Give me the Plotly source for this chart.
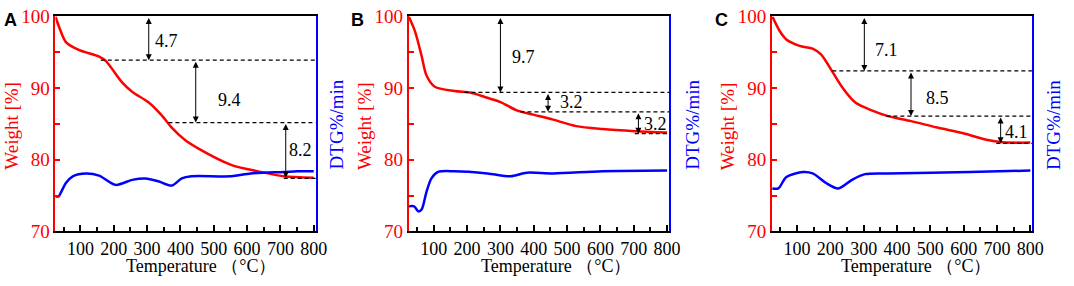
import plotly.graph_objects as go

# ---------------- data ----------------
# Panel A
temp_a_w = [25, 38, 57, 97, 156, 176, 225, 255, 305, 344, 374, 413, 453, 552, 631, 710, 800]
weight_a = [100, 98.3, 96.4, 95.3, 94.4, 93.8, 90.8, 89.5, 88.0, 86.2, 84.5, 82.8, 81.6, 79.3, 78.4, 77.7, 77.5]
temp_a_d = [25, 35, 41, 57, 77, 117, 156, 206, 255, 295, 334, 374, 404, 433, 552, 611, 710, 750, 800]
dtg_a = [74.9, 74.9, 75.4, 76.8, 77.7, 78.1, 77.8, 76.5, 77.2, 77.4, 77.0, 76.4, 77.4, 77.7, 77.7, 78.1, 78.3, 78.4, 78.4]

# Panel B
temp_b_w = [25, 44, 64, 78, 103, 162, 212, 251, 300, 349, 399, 458, 527, 606, 704, 800]
weight_b = [100, 97.9, 94.4, 91.8, 90.2, 89.6, 89.35, 88.8, 88.05, 86.9, 86.3, 85.6, 84.7, 84.3, 84.0, 83.8]
temp_b_d = [25, 41, 54, 64, 78, 93, 113, 162, 261, 330, 379, 458, 606, 800]
dtg_b = [73.5, 73.5, 72.8, 73.1, 75.5, 77.4, 78.3, 78.4, 78.1, 77.7, 78.2, 78.1, 78.4, 78.5]

# Panel C
temp_c_w = [26, 49, 68, 108, 147, 172, 206, 236, 275, 324, 373, 442, 521, 599, 668, 717, 800]
weight_c = [100, 97.9, 96.8, 95.9, 95.5, 94.7, 92.3, 90.1, 88.0, 86.9, 86.1, 85.4, 84.5, 83.7, 82.8, 82.45, 82.4]
temp_c_d = [26, 44, 68, 118, 147, 186, 224, 265, 304, 373, 619, 800]
dtg_c = [76.0, 76.0, 77.6, 78.3, 78.1, 76.8, 76.0, 77.2, 78.0, 78.1, 78.3, 78.5]

# step levels (dashed lines): start temperature and weight level
step_start_a = [161, 364, 710]
step_level_a = [93.9, 85.2, 77.4]
step_start_b = [192, 360, 703]
step_level_b = [89.4, 86.7, 83.65]
step_start_c = [206, 368, 698]
step_level_c = [92.4, 86.1, 82.3]

# arrows: x position, top, bottom ; labels: text, x, y
arrow_x_a = [305, 446, 716]
arrow_top_a = [100, 93.9, 85.2]
arrow_bot_a = [93.9, 85.2, 77.5]
label_a = ["4.7", "9.4", "8.2"]
label_x_a = [358, 547, 760]
label_y_a = [96.6, 88.4, 81.3]

arrow_x_b = [300, 443, 714]
arrow_top_b = [100, 89.4, 86.7]
arrow_bot_b = [89.4, 86.7, 83.65]
label_b = ["9.7", "3.2", "3.2"]
label_x_b = [369, 512, 764]
label_y_b = [94.4, 88.0, 85.0]

arrow_x_c = [302, 442, 711]
arrow_top_c = [100, 92.4, 86.1]
arrow_bot_c = [92.4, 86.1, 82.3]
label_c = ["7.1", "8.5", "4.1"]
label_x_c = [368, 521, 760]
label_y_c = [95.3, 88.6, 83.9]

panel_letters = ["A", "B", "C"]
x_ticks = [100, 200, 300, 400, 500, 600, 700, 800]
y_ticks = [70, 80, 90, 100]
x_title = "Temperature （°C）"
y_title = "Weight [%]"
y2_title = "DTG%/min"

# ---------------- layout geometry ----------------
W, H = 1074, 286
x_dom_px = [(56, 319), (413, 676), (780, 1043)]
y_dom = [1 - 239 / H, 1 - 7 / H]
SERIF = "Liberation Serif"
RED = "#ff0000"
BLUE = "#0000ff"

fig = go.Figure()

panels = [
    (temp_a_w, weight_a, temp_a_d, dtg_a, step_start_a, step_level_a, arrow_x_a, arrow_top_a, arrow_bot_a, label_a, label_x_a, label_y_a),
    (temp_b_w, weight_b, temp_b_d, dtg_b, step_start_b, step_level_b, arrow_x_b, arrow_top_b, arrow_bot_b, label_b, label_x_b, label_y_b),
    (temp_c_w, weight_c, temp_c_d, dtg_c, step_start_c, step_level_c, arrow_x_c, arrow_top_c, arrow_bot_c, label_c, label_x_c, label_y_c),
]

layout = dict(
    width=W, height=H, margin=dict(l=0, r=0, t=0, b=0),
    paper_bgcolor="white", plot_bgcolor="white", showlegend=False,
    font=dict(family=SERIF, size=19, color="black"),
)
annotations = []
shapes = []
x_range = [25, 806]
y_range = [70, 100]

for i, (tw, wv, td, dv, ss, sl, axx, atop, abot, lt, lx, ly) in enumerate(panels):
    xn = i + 1
    yl = 2 * i + 1
    yr = 2 * i + 2
    xs = "" if xn == 1 else str(xn)
    yls = "" if yl == 1 else str(yl)
    yrs = str(yr)
    x0p, x1p = x_dom_px[i]

    fig.add_trace(go.Scatter(x=td, y=dv, mode="lines", line=dict(color=BLUE, width=2.5, shape="spline", smoothing=0.8),
                             xaxis="x" + xs, yaxis="y" + yrs, hoverinfo="skip"))
    fig.add_trace(go.Scatter(x=tw, y=wv, mode="lines", line=dict(color=RED, width=2.5, shape="spline", smoothing=0.8),
                             xaxis="x" + xs, yaxis="y" + yls, hoverinfo="skip"))

    layout["xaxis" + xs] = dict(
        domain=[x0p / W, x1p / W], range=x_range, anchor="y" + yls,
        showline=True, linecolor="black", linewidth=2, mirror=True,
        ticks="inside", ticklen=6, tickwidth=2, tickcolor="black",
        tickvals=x_ticks, showgrid=False, zeroline=False, ticklabeloverflow="allow",
        tickfont=dict(family=SERIF, size=18, color="black"),
        minor=dict(ticks="inside", ticklen=4, tickwidth=2, tickcolor="black", dtick=50, tick0=0, showgrid=False),
    )
    layout["yaxis" + yls] = dict(
        domain=y_dom, range=y_range, anchor="x" + xs,
        showline=True, linecolor=RED, linewidth=2,
        ticks="inside", ticklen=5, tickwidth=2, tickcolor=RED,
        tickvals=y_ticks, showgrid=False, zeroline=False, ticklabeloverflow="allow",
        tickfont=dict(family=SERIF, size=19, color=RED),
        minor=dict(ticks="inside", ticklen=5, tickwidth=2, tickcolor=RED, dtick=5, tick0=0, showgrid=False),
    )
    layout["yaxis" + yrs] = dict(
        range=y_range, overlaying="y" + yls, side="right", anchor="x" + xs,
        showline=True, linecolor=BLUE, linewidth=2, ticks="",
        showticklabels=False, showgrid=False, zeroline=False,
    )

    xref = "x" + xs
    yref = "y" + yls
    for s, lvl in zip(ss, sl):
        shapes.append(dict(type="line", xref=xref, yref=yref, x0=s, x1=x_range[1], y0=lvl, y1=lvl,
                           line=dict(color="black", width=1.3, dash="4px,3px")))
    for ax_, t_, b_ in zip(axx, atop, abot):
        annotations.append(dict(xref=xref, yref=yref, axref=xref, ayref=yref,
                                x=ax_, y=b_, ax=ax_, ay=t_, text="", showarrow=True,
                                arrowhead=2, arrowside="end+start", arrowsize=1.2, arrowwidth=1,
                                arrowcolor="black", standoff=0, startstandoff=0))
    for t, x_, y_ in zip(lt, lx, ly):
        annotations.append(dict(xref=xref, yref=yref, x=x_, y=y_, text=t, showarrow=False,
                                font=dict(family=SERIF, size=18, color="black")))

# axis titles & panel letters (paper coordinates from pixels)
x_title_px = [203, 562, 925]
y_title_px = [12, 369, 735]
y2_title_px = [340, 700, 1065]
letter_px = [11, 361, 729]
for i in range(3):
    annotations.append(dict(xref="paper", yref="paper", x=x_title_px[i] / W, y=1 - 276 / H,
                            text=x_title, showarrow=False, xanchor="center", yanchor="middle",
                            font=dict(family=SERIF, size=18, color="black")))
    annotations.append(dict(xref="paper", yref="paper", x=y_title_px[i] / W, y=1 - 125 / H,
                            text=y_title, showarrow=False, textangle=-90, xanchor="center", yanchor="middle",
                            font=dict(family=SERIF, size=19, color=RED)))
    annotations.append(dict(xref="paper", yref="paper", x=y2_title_px[i] / W, y=1 - 124 / H,
                            text=y2_title, showarrow=False, textangle=-90, xanchor="center", yanchor="middle",
                            font=dict(family=SERIF, size=19, color=BLUE)))
    annotations.append(dict(xref="paper", yref="paper", x=letter_px[i] / W, y=1 - 11 / H,
                            text="<b>" + panel_letters[i] + "</b>", showarrow=False, xanchor="center", yanchor="middle",
                            font=dict(family="Liberation Sans", size=18, color="black")))

layout["annotations"] = annotations
layout["shapes"] = shapes
fig.update_layout(**layout)
fig.write_html("out.html", config={"displayModeBar": False},
               post_script="document.body.style.margin='0';document.body.style.overflow='hidden';")
